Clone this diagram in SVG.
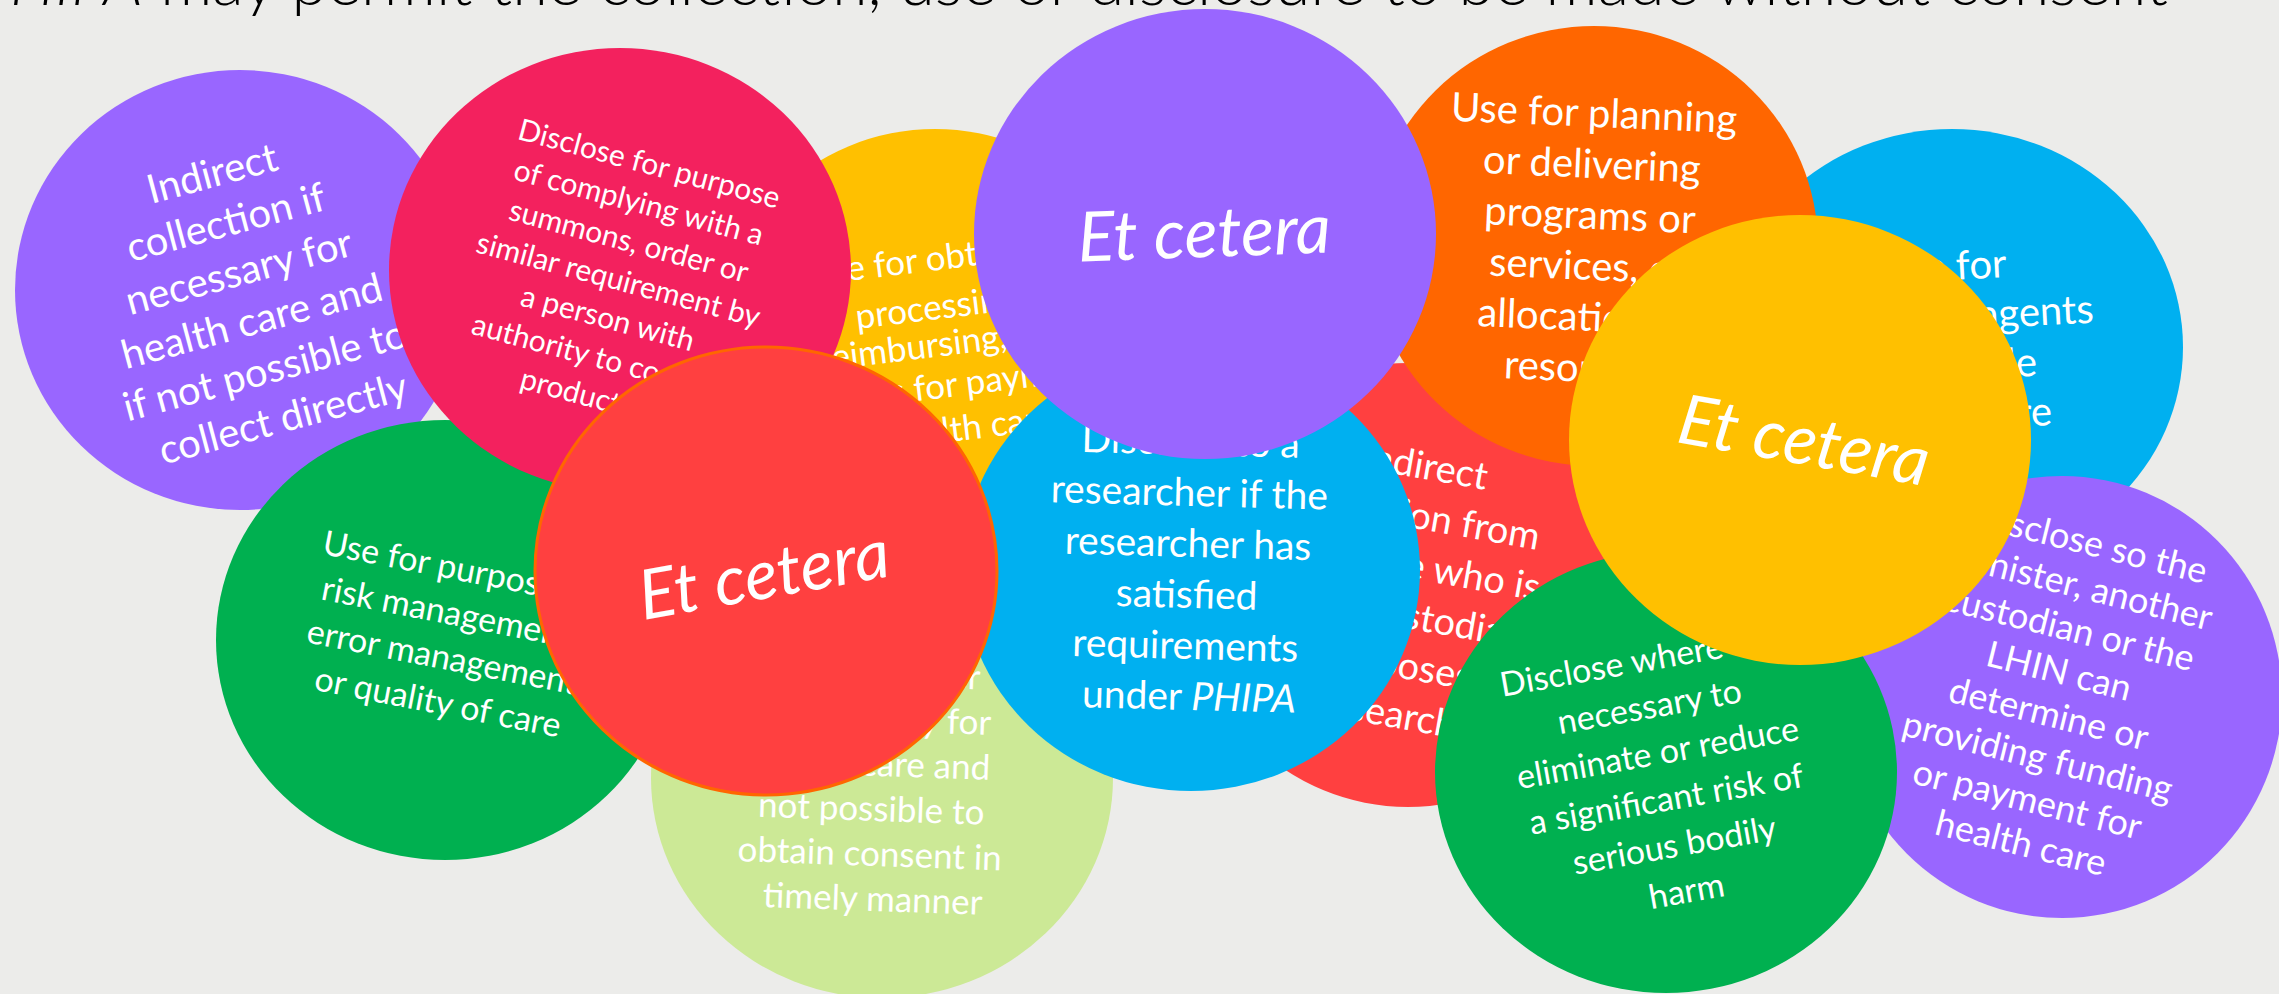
<svg xmlns="http://www.w3.org/2000/svg" width="2279" height="994" viewBox="0 0 2279 994">
  <style>
    .lbl { font-family: Lato, "Open Sans", "DejaVu Sans", sans-serif; fill: #ffffff; text-anchor: middle; }
    .lbl-start { font-family: Lato, "Open Sans", "DejaVu Sans", sans-serif; fill: #ffffff; }
    .etc { font-family: Lato, "Open Sans", "DejaVu Sans", sans-serif; fill: #ffffff; text-anchor: middle; font-style: italic; font-size: 69px; }
    .title { font-family: Lato, "Open Sans", "DejaVu Sans", sans-serif; fill: #000000; font-weight: 300; font-size: 64px; }
    .purple { fill: #9966FF; }
    .pink { fill: #F3215E; }
    .yellow { fill: #FFC000; }
    .orange { fill: #FF6600; }
    .blue { fill: #00B0F0; }
    .red { fill: #FF4040; }
    .green { fill: #00B050; }
    .lime { fill: #CCE996; }
  </style>

  <rect width="2279" height="994" fill="#ECECEA"/>

  <!-- heading, partly above the top edge -->
  <text class="title" x="-25" y="5" textLength="2193" lengthAdjust="spacingAndGlyphs"><tspan font-style="italic">PHIPA</tspan> may permit the collection, use or disclosure to be made without consent</text>

  <!-- bubbles, bottom of the stack first -->
  <g id="indirect-collection">
    <ellipse class="purple" cx="240" cy="290" rx="225" ry="220"/>
    <text class="lbl" font-size="40" transform="translate(250 295) rotate(-15)">
      <tspan x="0" y="-113.5">Indirect</tspan>
      <tspan x="0" y="-62.5">collection if</tspan>
      <tspan x="0" y="-11.5">necessary for</tspan>
      <tspan x="0" y="39.5">health care and</tspan>
      <tspan x="0" y="90.5">if not possible to</tspan>
      <tspan x="0" y="141.5">collect directly</tspan>
    </text>
  </g>

  <g id="risk-management">
    <ellipse class="green" cx="445" cy="640" rx="229" ry="220"/>
    <text class="lbl" font-size="34" transform="translate(451 635) rotate(11)">
      <tspan x="0" y="-55">Use for purpose of</tspan>
      <tspan x="0" y="-10">risk management,</tspan>
      <tspan x="0" y="35">error management</tspan>
      <tspan x="0" y="80">or quality of care</tspan>
    </text>
  </g>

  <g id="payment">
    <ellipse class="yellow" cx="935" cy="354" rx="225" ry="225"/>
    <text class="lbl-start" font-size="35" x="808" y="286" transform="rotate(-7 808 286)">Use for obtaining</text>
    <text class="lbl-start" font-size="35" x="857" y="329" transform="rotate(-7 857 329)">processing,</text>
    <text class="lbl-start" font-size="35" x="821" y="371" transform="rotate(-7 821 371)">reimbursing,</text>
    <text class="lbl-start" font-size="35" x="812" y="414" transform="rotate(-7 812 414)">claims for payment</text>
    <text class="lbl-start" font-size="35" x="836" y="456" transform="rotate(-7 836 456)">for health care</text>
  </g>

  <g id="summons">
    <ellipse class="pink" cx="620" cy="270" rx="231" ry="222"/>
    <text class="lbl" font-size="30" transform="translate(622 280) rotate(15)">
      <tspan x="0" y="-109">Disclose for purpose</tspan>
      <tspan x="0" y="-69">of complying with a</tspan>
      <tspan x="0" y="-29">summons, order or</tspan>
      <tspan x="0" y="11">similar requirement by</tspan>
      <tspan x="0" y="51">a person with</tspan>
      <tspan x="0" y="91">authority to compel</tspan>
      <tspan x="0" y="131">production</tspan>
    </text>
  </g>

  <g id="consent-not-timely">
    <ellipse class="lime" cx="882" cy="778" rx="231" ry="220"/>
    <text class="lbl" font-size="35" transform="translate(877 776) rotate(2)">
      <tspan x="0" y="-135">Disclose to</tspan>
      <tspan x="-24" y="-90">another provider</tspan>
      <tspan x="0" y="-45">if necessary for</tspan>
      <tspan x="0" y="0">health care and</tspan>
      <tspan x="0" y="45">not possible to</tspan>
      <tspan x="0" y="90">obtain consent in</tspan>
      <tspan x="0" y="135">timely manner</tspan>
    </text>
  </g>

  <g id="research-collection">
    <ellipse class="red" cx="1408" cy="585" rx="222" ry="222"/>
    <text class="lbl" font-size="38" transform="translate(1408 590) rotate(10)">
      <tspan x="0" y="-112">Indirect</tspan>
      <tspan x="0" y="-62">collection from</tspan>
      <tspan x="0" y="-12">someone who is</tspan>
      <tspan x="0" y="38">not a custodian</tspan>
      <tspan x="0" y="88">for purposes of</tspan>
      <tspan x="0" y="138">research</tspan>
    </text>
  </g>

  <g id="educating-agents">
    <ellipse class="blue" cx="1952" cy="347" rx="231" ry="218"/>
    <text class="lbl" font-size="40" transform="translate(1952 355) rotate(-3)">
      <tspan x="0" y="-75">Use for</tspan>
      <tspan x="0" y="-25">educating agents</tspan>
      <tspan x="0" y="25">to provide</tspan>
      <tspan x="0" y="75">health care</tspan>
    </text>
  </g>

  <g id="planning">
    <ellipse class="orange" cx="1594" cy="246" rx="224" ry="220"/>
    <text class="lbl" font-size="40" transform="translate(1593 255) rotate(2.5)">
      <tspan x="0" y="-128">Use for planning</tspan>
      <tspan x="0" y="-77">or delivering</tspan>
      <tspan x="0" y="-26">programs or</tspan>
      <tspan x="0" y="25">services, or</tspan>
      <tspan x="0" y="76">allocation of</tspan>
      <tspan x="0" y="127">resources</tspan>
    </text>
  </g>

  <g id="researcher">
    <ellipse class="blue" cx="1191" cy="570" rx="229" ry="221"/>
    <text class="lbl" font-size="39" transform="translate(1192 582) rotate(1.5)">
      <tspan x="0" y="-127">Disclose to a</tspan>
      <tspan x="0" y="-76">researcher if the</tspan>
      <tspan x="0" y="-25">researcher has</tspan>
      <tspan x="0" y="26">satisfied</tspan>
      <tspan x="0" y="77">requirements</tspan>
      <tspan x="0" y="128">under <tspan font-style="italic">PHIPA</tspan></tspan>
    </text>
  </g>

  <g id="et-cetera-top">
    <ellipse class="purple" cx="1205" cy="234" rx="231" ry="225"/>
    <text class="etc" x="1205" y="257" transform="rotate(-2 1205 257)">Et cetera</text>
  </g>

  <g id="et-cetera-left">
    <ellipse class="red" cx="766" cy="571" rx="231" ry="224" stroke="#FF6600" stroke-width="3"/>
    <text class="etc" x="768" y="598" transform="rotate(-10 768 598)">Et cetera</text>
  </g>

  <g id="funding">
    <ellipse class="purple" cx="2062" cy="697" rx="220" ry="221"/>
    <text class="lbl" font-size="36" transform="translate(2058 694) rotate(14)">
      <tspan x="0" y="-142">Disclose so the</tspan>
      <tspan x="0" y="-98">Minister, another</tspan>
      <tspan x="0" y="-54">custodian or the</tspan>
      <tspan x="0" y="-10">LHIN can</tspan>
      <tspan x="0" y="34">determine or</tspan>
      <tspan x="0" y="78">providing funding</tspan>
      <tspan x="0" y="122">or payment for</tspan>
      <tspan x="0" y="166">health care</tspan>
    </text>
  </g>

  <g id="bodily-harm">
    <ellipse class="green" cx="1666" cy="772" rx="231" ry="221"/>
    <text class="lbl" font-size="34" transform="translate(1666 775) rotate(-10)">
      <tspan x="0" y="-105.5">Disclose where it is</tspan>
      <tspan x="0" y="-58.5">necessary to</tspan>
      <tspan x="0" y="-11.5">eliminate or reduce</tspan>
      <tspan x="0" y="35.5">a significant risk of</tspan>
      <tspan x="0" y="82.5">serious bodily</tspan>
      <tspan x="0" y="129.5">harm</tspan>
    </text>
  </g>

  <g id="et-cetera-right">
    <ellipse class="yellow" cx="1800" cy="440" rx="231" ry="225"/>
    <text class="etc" x="1800" y="464" transform="rotate(10 1800 464)">Et cetera</text>
  </g>
</svg>
